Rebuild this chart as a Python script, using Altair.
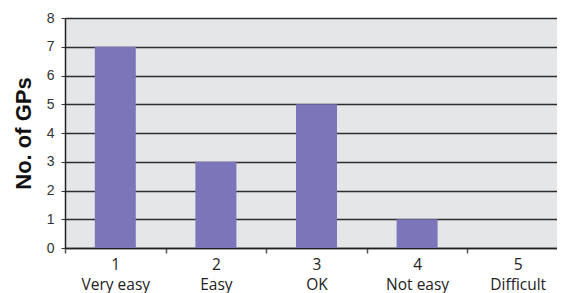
import altair as alt
import pandas as pd

codes = ["1", "2", "3", "4", "5"]
names = ["Very easy", "Easy", "OK", "Not easy", "Difficult"]
counts = [7, 3, 5, 1, 0]

df = pd.DataFrame({"cat": [c + "|" + n for c, n in zip(codes, names)], "n": counts})

chart = alt.Chart(df).mark_bar(color="#7B75B9", width=41).encode(
    x=alt.X("cat:N", sort=None, title=None,
            scale=alt.Scale(paddingInner=0.0, paddingOuter=0.0, range=[0, 503]),
            axis=alt.Axis(labelAngle=0, labelExpr="split(datum.label, '|')",
                          labelFont="Open Sans", labelFontSize=15.5, labelColor="#222",
                          labelLineHeight=20, labelPadding=4,
                          tickBand="extent", tickSize=5, tickColor="#555", tickWidth=1.5,
                          domainColor="#222", domainWidth=1.5)),
    y=alt.Y("n:Q", title="No. of GPs",
            scale=alt.Scale(domain=[0, 8], nice=False),
            axis=alt.Axis(values=list(range(0, 9)), labelFont="Liberation Sans",
                          labelFontSize=14, labelColor="#333", labelPadding=7,
                          tickSize=4, tickColor="#333", tickWidth=1,
                          domainColor="#222", domainWidth=1.5,
                          grid=True, gridColor="#2e2e2e", gridWidth=1.5,
                          titleFont="Liberation Sans", titleFontSize=22,
                          titleFontWeight="bold", titleColor="#111", titlePadding=11)),
).properties(
    width=492, height=230,
    autosize=alt.AutoSizeParams(type="none"),
    padding={"left": 57, "right": 0, "top": 10, "bottom": 45},
).configure_view(fill="#E5E6E8", stroke=None)

chart.save("out.html", embed_options={"renderer": "svg", "actions": False})
